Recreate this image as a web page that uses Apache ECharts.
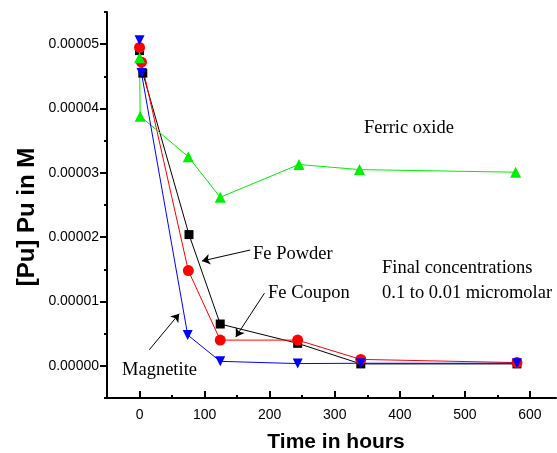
<!DOCTYPE html>
<html><head><meta charset="utf-8">
<script src="https://cdn.jsdelivr.net/npm/echarts@6/dist/echarts.min.js"></script>
<style>html,body{margin:0;padding:0;background:#fff}#c{width:557px;height:453px}</style>
</head><body><div id="c"></div>
<script>
// Data (time in hours, [Pu] in M)
const timeFePowder = [0, 5, 76, 124, 243, 340, 580];
const fepowder = [4.90e-5, 4.55e-5, 2.04e-5, 0.65e-5, 0.35e-5, 0.03e-5, 0.03e-5];
const timeFeCoupon = [0, 3, 75, 124, 243, 340, 580];
const fecoupon = [4.95e-5, 4.72e-5, 1.48e-5, 0.40e-5, 0.40e-5, 0.10e-5, 0.05e-5];
const timeMagnetite = [0, 3, 74, 124, 243, 340, 580];
const magnetite = [5.06e-5, 4.55e-5, 0.48e-5, 0.07e-5, 0.035e-5, 0.04e-5, 0.04e-5];
const timeFerric = [0, 1, 75, 124, 245, 338, 578];
const ferric = [4.79e-5, 3.88e-5, 3.25e-5, 2.62e-5, 3.13e-5, 3.05e-5, 3.01e-5];

const xTicks = [0, 100, 200, 300, 400, 500, 600];
const xMinor = [-50, 50, 150, 250, 350, 450, 550];
const yTicks = [0, 0.00001, 0.00002, 0.00003, 0.00004, 0.00005];
const yMinor = [-0.000005, 0.000005, 0.000015, 0.000025, 0.000035, 0.000045, 0.000055];

// annotation arrows in data coordinates [from, to]
const arrowFePowder = [[170, 1.80e-5], [96, 1.63e-5]];
const arrowFeCoupon = [[192, 1.13e-5], [148, 0.45e-5]];
const arrowMagnetite = [[15, 0.25e-5], [61, 0.81e-5]];

const zip = (xs, ys) => xs.map((x, i) => [x, ys[i]]);

const sans = 'Liberation Sans, Arial, sans-serif';
const serif = 'Liberation Serif, Times New Roman, serif';

const chart = echarts.init(document.getElementById('c'), null, {renderer: 'canvas'});

function mainX() {
  return {
    type: 'value', min: -50, max: 640, position: 'bottom',
    axisLine: {onZero: false, lineStyle: {color: '#000', width: 2}},
    axisTick: {inside: true, length: 7, customValues: xTicks, lineStyle: {color: '#000', width: 2}},
    axisLabel: {customValues: xTicks, fontFamily: sans, fontSize: 14, color: '#000', margin: 10},
    splitLine: {show: false}
  };
}
function minorX() {
  return {
    type: 'value', min: -50, max: 640, position: 'bottom', offset: 0,
    axisLine: {show: false, onZero: false},
    axisTick: {inside: true, length: 3, customValues: xMinor, lineStyle: {color: '#000', width: 2}},
    axisLabel: {show: false}, splitLine: {show: false}
  };
}
function mainY() {
  return {
    type: 'value', min: -0.000005, max: 0.000055, position: 'left',
    axisLine: {show: true, onZero: false, lineStyle: {color: '#000', width: 2}},
    axisTick: {show: true, length: 7, customValues: yTicks, lineStyle: {color: '#000', width: 2}},
    axisLabel: {customValues: yTicks, fontFamily: sans, fontSize: 14, color: '#000', margin: 8,
      formatter: v => Number(v).toFixed(5)},
    splitLine: {show: false}
  };
}
function minorY() {
  return {
    type: 'value', min: -0.000005, max: 0.000055, position: 'left', offset: 0,
    axisLine: {show: false, onZero: false},
    axisTick: {show: true, length: 3, customValues: yMinor, lineStyle: {color: '#000', width: 2}},
    axisLabel: {show: false}, splitLine: {show: false}
  };
}

function line(name, data, color, symbol, size, rotate) {
  return {
    name, type: 'line', data, xAxisIndex: 0, yAxisIndex: 0,
    symbol, symbolSize: size, symbolRotate: rotate || 0,
    lineStyle: {color, width: 1}, itemStyle: {color, borderWidth: 0},
    showSymbol: true, z: 3
  };
}

const arrowLine = (a) => [{coord: a[0]}, {coord: a[1]}];

const series = [
  Object.assign(line('Fe Powder', zip(timeFePowder, fepowder), '#000000', 'rect', 9), {
    markLine: {
      silent: true, symbol: ['none', 'arrow'], symbolSize: 8,
      label: {show: false},
      lineStyle: {color: '#000', width: 1, type: 'solid'},
      emphasis: {disabled: true},
      data: [arrowLine(arrowFePowder), arrowLine(arrowFeCoupon), arrowLine(arrowMagnetite)]
    }
  }),
  line('Fe Coupon', zip(timeFeCoupon, fecoupon), '#ff0000', 'circle', 11),
  line('Ferric oxide', zip(timeFerric, ferric), '#00ee00', 'triangle', 11),
  line('Magnetite', zip(timeMagnetite, magnetite), '#0000ff', 'triangle', 10, 180)
];

const txt = (text, x, y, extra) => ({
  type: 'text', x, y, z: 10,
  style: Object.assign({text, fill: '#000', font: '18.5px ' + serif, align: 'left', verticalAlign: 'middle'}, extra || {})
});

chart.setOption({
  animation: false,
  backgroundColor: '#fff',
  grid: {left: 107, right: 1, top: 12, bottom: 55, containLabel: false},
  xAxis: [mainX(), minorX()],
  yAxis: [mainY(), minorY()],
  series,
  graphic: [
    txt('Ferric oxide', 364, 128),
    txt('Fe Powder', 253, 254),
    txt('Fe Coupon', 268, 293),
    txt('Final concentrations', 382, 268),
    txt('0.1 to 0.01 micromolar', 382, 293),
    txt('Magnetite', 122, 370),
    {type: 'text', x: 336, y: 442, style: {text: 'Time in hours', fill: '#000', font: 'bold 21px ' + sans, align: 'center', verticalAlign: 'middle'}},
    {type: 'text', x: 27, y: 217, rotation: Math.PI / 2, style: {text: '[Pu] Pu in M', fill: '#000', font: 'bold 24px ' + sans, align: 'center', verticalAlign: 'middle'}}
  ]
});
</script>
</body></html>
